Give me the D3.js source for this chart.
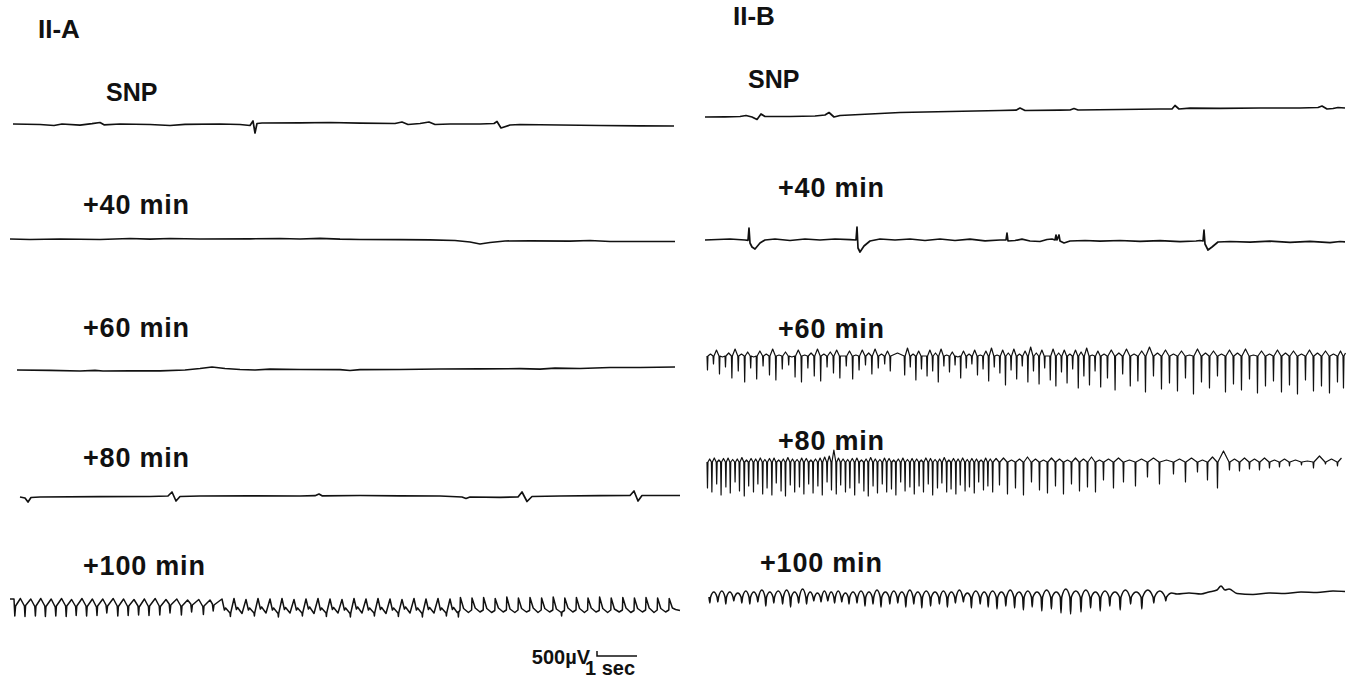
<!DOCTYPE html>
<html>
<head>
<meta charset="utf-8">
<script src="https://cdn.jsdelivr.net/npm/d3@7"></script>
<style>
  body { margin: 0; background: #fff; }
  svg { display: block; }
  text { font-family: "Liberation Sans", Arial, Helvetica, sans-serif; font-weight: bold; fill: #111; }
</style>
</head>
<body>
<script>

// panel and trace names
var panelTitles = ['II-A', 'II-B'];
var traceLabels = ['SNP', '+40 min', '+60 min', '+80 min', '+100 min'];
var scaleLabels = ['500\u00b5V', '1 sec'];
var scaleBar = [0.5, 1]; // mV, sec

// II-A traces, [seconds, mV] (up = positive)
var aSnp = [[0.075,0],[0.75,-0.05],[1.1,-0.15],[1.3,0],[1.75,-0.12],[2.05,0.03],[2.25,0.15],[2.35,-0.08],[2.75,0],[3.5,-0.05],
  [4.0,-0.15],[4.375,-0.03],[5.25,0],[5.75,-0.05],[6.0,-0.15],[6.075,0.3],[6.125,-0.9],[6.175,0.05],[6.3,0.1],[7.25,0.12],
  [8.0,0.15],[8.75,0.08],[9.625,0.05],[9.8,0.2],[9.95,-0.05],[10.25,0.05],[10.475,0.2],[10.625,-0.05],[11.0,0],[11.75,0],
  [12.1,0.05],[12.175,0.25],[12.275,-0.4],[12.5,-0.1],[12.75,-0.05],[13.75,-0.1],[14.75,-0.15],[15.75,-0.18],[16.6,-0.2]];

var a40 = [[0,0.1],[0.5,0.05],[1.25,0.1],[2.25,0.05],[3.0,0.15],[3.5,0.08],[4.0,0.15],[4.75,0.1],[6.0,0.12],[6.75,0.15],
  [7.25,0.1],[7.75,0.17],[8.25,0.08],[8.75,0.05],[9.75,0.03],[10.5,0.02],[11.125,-0.05],[11.5,-0.2],[11.75,-0.4],[12.0,-0.25],
  [12.375,-0.1],[13.0,-0.08],[14.0,-0.12],[14.5,-0.05],[15.0,-0.15],[15.75,-0.15],[16.625,-0.15]];

var a60 = [[0.175,0],[1.0,-0.03],[1.75,-0.1],[2.125,-0.03],[2.325,-0.1],[3.0,-0.08],[3.75,-0.08],[4.375,0],[4.75,0.15],[5.05,0.3],
  [5.375,0.15],[5.75,0.05],[6.125,0],[6.5,0.08],[7.25,0.05],[8.25,0.03],[8.5,-0.05],[8.75,0.03],[9.75,0.05],[10.75,0.1],
  [11.75,0.12],[12.75,0.13],[13.25,0.08],[13.625,0.18],[14.25,0.15],[15.0,0.25],[15.75,0.25],[16.625,0.3]];

var a80 = [[0.25,0],[0.375,-0.1],[0.45,-0.5],[0.525,-0.05],[0.75,0],[2.25,0.03],[3.5,0.05],[3.95,0.1],[4.05,0.5],[4.15,-0.4],
  [4.25,0.05],[4.75,0.1],[6.0,0.12],[7.25,0.1],[7.625,0.13],[7.725,0.3],[7.8,0.12],[8.75,0.15],[9.75,0.12],[10.75,0.1],
  [11.3,0],[11.4,-0.15],[11.5,0],[12.25,-0.03],[12.7,0],[12.8,0.5],[12.925,-0.45],[13.05,0.05],[13.75,0.1],[14.75,0.13],
  [15.5,0.15],[15.6,0.6],[15.7,-0.4],[15.8,0.15],[16.25,0.15],[16.75,0.15]];

var a100 = [[0,0.8],[0.1,0.8],[0.12,-0.9],[0.14,0.1],
  [0.26,0.85],[0.36,0.1],[0.375,-0.95],[0.39,0.15],[0.52,0.8],[0.62,0.05],[0.635,-0.9],[0.65,0.1],
  [0.77,0.85],[0.87,0.1],[0.885,-0.95],[0.9,0.05],[1.03,0.8],[1.13,0],[1.145,-0.9],[1.16,0.1],
  [1.29,0.85],[1.39,0.1],[1.405,-0.95],[1.42,0.1],[1.54,0.75],[1.64,0.05],[1.655,-0.85],[1.67,0.1],
  [1.8,0.85],[1.9,0.1],[1.915,-0.9],[1.93,0.05],[2.06,0.8],[2.16,0],[2.175,-0.85],[2.19,0.1],
  [2.32,0.8],[2.4,0.2],[2.42,-0.6],[2.44,0.1],[2.58,0.85],[2.68,0.1],[2.695,-0.9],[2.71,0.05],
  [2.84,0.8],[2.94,0.05],[2.955,-0.85],[2.97,0.1],[3.1,0.75],[3.2,0.1],[3.215,-0.8],[3.23,0],
  [3.36,0.8],[3.46,0.05],[3.475,-0.85],[3.49,0.1],[3.63,0.85],[3.73,0.1],[3.745,-0.8],[3.76,0.05],
  [3.9,0.75],[3.98,0.3],[4.0,-0.6],[4.02,0.2],[4.17,0.8],[4.27,0.1],[4.285,-0.8],[4.3,0.1],
  [4.44,0.7],[4.52,0.3],[4.54,-0.5],[4.56,0.2],[4.72,0.75],[4.82,0.05],[4.835,-0.75],[4.85,0.1],
  [5.0,0.7],[5.06,0.3],[5.08,-0.4],[5.1,0.2],
  [5.3,0.8],[5.36,-0.3],[5.39,-0.1],[5.5,-0.6],[5.51,-0.95],[5.52,-0.55],
  [5.6,0.85],[5.66,-0.25],[5.69,-0.05],[5.8,-0.65],
  [5.9,0.75],[5.96,-0.3],[5.99,-0.1],[6.1,-0.6],[6.11,-0.9],[6.12,-0.55],
  [6.2,0.85],[6.26,-0.2],[6.29,0],[6.4,-0.6],
  [6.5,0.8],[6.56,-0.3],[6.59,-0.1],[6.7,-0.65],[6.71,-1.0],[6.72,-0.6],
  [6.8,0.85],[6.86,-0.25],[6.89,-0.05],[7.0,-0.6],
  [7.1,0.75],[7.16,-0.3],[7.19,-0.1],[7.3,-0.6],[7.31,-0.9],[7.32,-0.55],
  [7.4,0.8],[7.46,-0.2],[7.49,0],[7.6,-0.65],
  [7.7,0.85],[7.76,-0.3],[7.79,-0.1],[7.9,-0.6],[7.91,-0.95],[7.92,-0.55],
  [8.0,0.8],[8.06,-0.25],[8.09,-0.05],[8.2,-0.6],
  [8.3,0.75],[8.36,-0.3],[8.39,-0.1],[8.5,-0.65],[8.51,-1.0],[8.52,-0.6],
  [8.6,0.85],[8.66,-0.2],[8.69,0],[8.8,-0.6],
  [8.9,0.8],[8.96,-0.3],[8.99,-0.1],[9.1,-0.6],[9.11,-0.9],[9.12,-0.55],
  [9.2,0.85],[9.26,-0.25],[9.29,-0.05],[9.4,-0.65],
  [9.5,0.8],[9.56,-0.3],[9.59,-0.1],[9.7,-0.6],[9.71,-0.95],[9.72,-0.55],
  [9.8,0.75],[9.86,-0.2],[9.89,0],[10.0,-0.6],
  [10.1,0.85],[10.16,-0.3],[10.19,-0.1],[10.3,-0.65],[10.31,-1.0],[10.32,-0.6],
  [10.4,0.8],[10.46,-0.25],[10.49,-0.05],[10.6,-0.6],
  [10.7,0.85],[10.76,-0.3],[10.79,-0.1],[10.9,-0.6],[10.91,-0.9],[10.92,-0.55],
  [11.0,0.8],[11.06,-0.25],[11.09,-0.05],[11.18,-0.55],
  [11.2,-0.5],[11.21,-1.0],[11.22,-0.5],
  [11.25,-0.3],[11.26,0.95],[11.34,-0.15],[11.46,-0.55],[11.54,-0.3],[11.55,0.9],[11.63,-0.1],[11.75,-0.5],
  [11.83,-0.3],[11.84,0.95],[11.92,-0.15],[12.04,-0.55],[12.12,-0.35],[12.13,0.85],[12.21,-0.1],[12.33,-0.5],
  [12.41,-0.3],[12.42,1.0],[12.5,-0.2],[12.62,-0.55],[12.7,-0.3],[12.71,0.9],[12.79,-0.15],[12.91,-0.5],
  [12.99,-0.35],[13.0,0.95],[13.08,-0.1],[13.2,-0.55],[13.28,-0.3],[13.29,0.9],[13.37,-0.15],[13.49,-0.5],
  [13.57,-0.3],[13.58,1.0],[13.66,-0.2],[13.78,-0.55],[13.79,-0.9],[13.8,-0.5],[13.86,-0.35],[13.87,0.9],[13.95,-0.1],[14.07,-0.5],
  [14.15,-0.3],[14.16,0.95],[14.24,-0.15],[14.36,-0.55],[14.44,-0.3],[14.45,0.9],[14.53,-0.1],[14.65,-0.5],
  [14.73,-0.35],[14.74,1.0],[14.82,-0.15],[14.94,-0.55],[15.02,-0.3],[15.03,0.9],[15.11,-0.2],[15.23,-0.5],
  [15.31,-0.3],[15.32,0.95],[15.4,-0.1],[15.52,-0.55],[15.6,-0.35],[15.61,0.9],[15.69,-0.15],[15.81,-0.5],
  [15.89,-0.3],[15.9,0.95],[15.98,-0.1],[16.1,-0.55],[16.18,-0.3],[16.19,0.9],[16.27,-0.15],[16.39,-0.5],
  [16.47,-0.3],[16.48,0.85],[16.56,-0.1],[16.64,-0.25],[16.75,-0.35]];

// II-B traces, [seconds, mV]
var bSnp = [[0,-0.5],[0.5,-0.48],[0.875,-0.45],[1.025,-0.35],[1.175,-0.5],[1.3,-0.75],[1.4,-0.2],[1.5,-0.45],[2.125,-0.45],
  [2.75,-0.4],[3.0,-0.3],[3.1,-0.05],[3.225,-0.5],[3.375,-0.35],[4.125,-0.2],[4.875,-0.05],[6.125,0.05],[7.375,0.15],
  [7.775,0.18],[7.875,0.4],[8.0,0.15],[8.875,0.18],[9.125,0.2],[9.225,0.35],[9.325,0.2],[10.375,0.25],[11.375,0.3],
  [11.675,0.3],[11.75,0.65],[11.85,0.3],[12.125,0.38],[12.875,0.36],[13.875,0.4],[14.875,0.4],[15.325,0.45],[15.425,0.6],
  [15.55,0.3],[15.7,0.35],[15.825,0.45],[16.0,0.4]];

var b40 = [[0,0],[0.625,0.1],[1.0,0],[1.075,-0.03],[1.1,1.2],[1.125,-0.3],[1.175,-0.7],[1.25,-0.9],[1.375,-0.3],[1.5,0],
  [1.75,0.1],[2.125,-0.05],[2.5,0.1],[2.875,0],[3.25,0.1],[3.625,0.03],[3.775,0],[3.8,1.3],[3.825,-0.8],[3.875,-1.2],
  [3.975,-0.6],[4.125,-0.1],[4.375,0.1],[4.75,0],[5.125,0.1],[5.5,-0.05],[5.875,0.1],[6.25,-0.05],[6.625,0.08],[7.0,-0.08],
  [7.375,0],[7.525,0],[7.55,0.7],[7.575,-0.1],[7.75,-0.05],[7.925,0.08],[8.125,-0.1],[8.375,-0.15],[8.55,0.05],[8.675,0.1],
  [8.75,0],[8.775,0.5],[8.8,0],[8.85,0.5],[8.875,-0.1],[8.975,-0.3],[9.125,-0.1],[9.5,-0.05],[9.875,-0.12],[10.375,-0.05],
  [10.875,-0.14],[11.375,-0.06],[11.875,-0.16],[12.275,-0.1],[12.375,-0.05],[12.45,-0.1],[12.475,1.0],[12.5,-0.4],
  [12.575,-1.0],[12.675,-0.7],[12.825,-0.2],[13.125,-0.15],[13.625,-0.22],[14.125,-0.12],[14.625,-0.24],[15.125,-0.14],
  [15.625,-0.26],[15.875,-0.15],[16.0,-0.18]];

// dense II-B traces as spike tables: [spike time s, arch after spike mV, spike tip mV]
var b60 = [[0.05,0.2,-1.4],[0.2,0.6,-0.8],[0.35,-0.1,-1.8],[0.5,0.3,-1.1],[0.66,0.7,-2.2],[0.82,0.2,-1.5],[0.98,0.4,-2.6],
  [1.13,-0.1,-1.2],[1.28,0.5,-2.3],[1.44,0.2,-1.0],[1.6,0.7,-1.9],[1.76,0.1,-2.4],[1.92,0.4,-1.3],[2.08,-0.1,-0.9],
  [2.24,0.6,-2.1],[2.4,0.1,-2.6],[2.56,0.3,-1.2],[2.72,0.7,-2.0],[2.88,0.2,-2.5],[3.04,0.4,-1.1],[3.2,0.6,-1.7],
  [3.36,0.0,-2.2],[3.52,0.5,-1.0],[3.68,0.1,-2.3],[3.84,0.6,-1.4],[4.0,0.3,-0.9],[4.16,0.7,-1.8],[4.32,0.2,-1.2],
  [4.48,0.5,-0.8],[4.62,0.3,-1.5],[4.98,0.8,-1.9],[5.12,0.2,-1.1],[5.26,0.5,-2.4],[5.4,0.0,-1.3],[5.54,0.6,-2.0],
  [5.68,0.3,-1.5],[5.82,0.7,-2.6],[5.96,0.1,-1.0],[6.1,0.4,-1.6],[6.24,-0.1,-0.9],[6.38,0.5,-2.2],[6.52,0.2,-1.2],
  [6.66,0.6,-0.8],[6.8,0.1,-1.9],[6.94,0.5,-1.3],[7.08,0.8,-2.5],[7.22,0.1,-1.1],[7.36,0.6,-1.7],[7.5,0.3,-2.9],
  [7.64,0.7,-1.4],[7.78,0.2,-2.3],[7.92,0.5,-1.0],[8.06,0.9,-2.6],[8.2,0.3,-1.5],[8.34,0.6,-2.8],[8.48,0.0,-1.2],
  [8.62,0.7,-2.4],[8.76,0.3,-3.0],[8.9,0.6,-1.6],[9.04,0.2,-2.7],[9.18,0.6,-1.3],[9.32,0.4,-3.2],[9.46,0.8,-2.0],
  [9.6,0.1,-2.9],[9.74,0.5,-1.5],[9.88,0.2,-3.1],[10.05,0.6,-2.2],[10.24,0.3,-3.4],[10.43,0.7,-1.8],[10.62,0.2,-3.0],
  [10.81,0.5,-2.5],[11.0,0.9,-3.6],[11.2,0.3,-2.0],[11.4,0.6,-3.3],[11.6,0.2,-2.7],[11.8,0.5,-3.5],[12.0,0.1,-2.2],
  [12.2,0.7,-3.8],[12.4,0.3,-2.6],[12.6,0.5,-3.2],[12.8,0.2,-2.0],[13.0,0.6,-3.6],[13.2,0.3,-2.8],[13.4,0.7,-3.4],
  [13.6,0.1,-2.3],[13.8,0.5,-3.7],[14.0,0.2,-3.0],[14.2,0.6,-2.5],[14.4,0.3,-3.6],[14.6,0.5,-2.9],[14.8,0.2,-3.8],
  [15.0,0.6,-2.4],[15.2,0.3,-3.5],[15.4,0.5,-3.0],[15.6,0.2,-3.7],[15.8,0.5,-2.6],[15.95,0.3,-3.2]];

var b80 = [[0.05,0.3,-2.6],[0.16,0.4,-3.0],[0.28,0.2,-2.2],[0.39,0.35,-3.3],[0.51,0.4,-2.5],[0.62,0.25,-3.1],[0.74,0.3,-2.0],
  [0.85,0.45,-2.9],[0.97,0.2,-3.4],[1.08,0.35,-2.4],[1.2,0.3,-3.0],[1.31,0.4,-2.2],[1.43,0.25,-3.2],[1.54,0.35,-2.6],
  [1.66,0.4,-3.3],[1.77,0.2,-2.1],[1.89,0.3,-2.9],[2.0,0.45,-3.4],[2.12,0.3,-2.3],[2.23,0.25,-3.0],[2.35,0.4,-2.5],
  [2.46,0.35,-3.2],[2.58,0.2,-2.2],[2.69,0.3,-3.1],[2.81,0.4,-2.4],[2.92,0.5,-3.3],[3.04,0.6,-2.0],[3.15,1.2,-2.8],
  [3.27,0.4,-3.2],[3.38,0.3,-2.3],[3.5,0.25,-3.0],[3.61,0.35,-2.6],[3.73,0.4,-3.3],[3.84,0.2,-2.1],[3.96,0.3,-2.9],
  [4.07,0.45,-3.4],[4.19,0.3,-2.4],[4.3,0.25,-3.1],[4.42,0.4,-2.2],[4.53,0.35,-3.0],[4.65,0.2,-2.7],[4.76,0.3,-3.3],
  [4.88,0.4,-2.0],[4.99,0.25,-2.9],[5.11,0.35,-2.5],[5.22,0.3,-3.2],[5.34,0.2,-2.4],[5.45,0.4,-3.0],[5.57,0.35,-2.2],
  [5.68,0.25,-3.3],[5.8,0.3,-2.6],[5.91,0.45,-2.1],[6.03,0.2,-3.0],[6.14,0.35,-2.7],[6.26,0.3,-3.2],[6.37,0.4,-2.3],
  [6.49,0.25,-2.9],[6.6,0.35,-2.5],[6.72,0.3,-3.1],[6.83,0.2,-2.0],[6.95,0.4,-2.8],[7.06,0.3,-2.4],[7.18,0.35,-3.0],
  [7.35,0.4,-2.3],[7.55,0.2,-3.2],[7.75,0.3,-2.6],[7.95,0.5,-3.3],[8.15,0.3,-2.0],[8.35,0.2,-2.8],[8.55,0.4,-3.1],
  [8.75,0.3,-2.4],[8.95,0.2,-3.2],[9.15,0.4,-2.2],[9.35,0.3,-2.9],[9.55,0.5,-2.5],[9.75,0.2,-3.0],[9.95,0.3,-1.8],
  [10.2,0.4,-2.6],[10.45,0.2,-2.0],[10.75,0.3,-2.4],[11.05,0.4,-1.5],[11.35,0.2,-2.2],[11.7,0.3,-1.2],[12.0,0.4,-2.0],
  [12.3,0.2,-1.0],[12.55,0.5,-1.8],[12.8,1.1,-2.6],[13.1,0.3,-0.8],[13.35,0.4,-0.9],[13.6,0.3,-0.7],[13.85,0.4,-0.8],
  [14.1,0.2,-0.6],[14.35,0.3,-0.5],[14.6,0.2,-0.4],[14.9,0.1,-0.3],[15.2,0.6,-0.6],[15.5,0.3,-0.2],[15.8,0.4,-0.4]];

var b100 = [[0.1,0.5,-0.6],[0.3,0.6,-0.5],[0.5,0.5,-0.7],[0.7,0.4,-0.4],[0.9,0.6,-0.6],[1.1,0.5,-0.7],[1.3,0.7,-0.5],
  [1.5,0.5,-0.9],[1.7,0.6,-0.6],[1.92,0.7,-0.7],[2.12,0.5,-1.0],[2.32,0.8,-0.6],[2.52,0.5,-0.7],[2.7,0.4,-0.4],
  [2.88,0.6,-0.5],[3.05,0.5,-0.4],[3.22,0.6,-0.6],[3.4,0.4,-0.5],[3.58,0.5,-0.7],[3.78,0.6,-0.6],[3.98,0.5,-0.9],
  [4.18,0.7,-0.7],[4.38,0.5,-1.0],[4.6,0.6,-0.7],[4.8,0.5,-0.6],[5.0,0.7,-1.0],[5.2,0.5,-0.7],[5.4,0.6,-1.1],
  [5.62,0.5,-0.9],[5.84,0.6,-0.7],[6.04,0.5,-1.0],[6.24,0.7,-0.6],[6.44,0.4,-0.5],[6.64,0.6,-1.1],[6.86,0.5,-0.7],
  [7.06,0.6,-1.0],[7.28,0.5,-1.2],[7.5,0.7,-0.9],[7.72,0.5,-1.1],[7.94,0.6,-1.3],[8.16,0.5,-1.0],[8.4,0.7,-1.4],
  [8.64,0.5,-1.2],[8.88,0.8,-1.6],[9.12,0.6,-1.7],[9.38,0.7,-1.5],[9.62,0.5,-1.1],[9.86,0.6,-1.4],[10.1,0.5,-0.9],
  [10.36,0.7,-1.3],[10.62,0.5,-0.7],[10.9,0.7,-1.2],[11.2,0.6,-0.6],[11.5,0.4,-0.4]];
var b100Tail = [[11.8,0.3],[12.1,0.4],[12.4,0.3],[12.6,0.5],[12.8,0.7],[12.9,1.1],[13.0,0.7],[13.1,0.8],[13.3,0.35],
  [13.7,0.25],[14.1,0.4],[14.5,0.35],[14.9,0.5],[15.3,0.45],[15.7,0.6],[16.0,0.55]];

// ---- layout ----
var width = 1349, height = 678;
var svg = d3.select('body').append('svg').attr('width', width).attr('height', height);

var xA = d3.scaleLinear().domain([0, 16.75]).range([10, 680]);
var xB = d3.scaleLinear().domain([0, 16]).range([705, 1345]);
function yAt(base) { return d3.scaleLinear().domain([-1, 1]).range([base + 10, base - 10]); }

// turn a spike table into a pen path: drop to the tip, come back, arch to the next spike
function spikePoints(rows, endT, w) {
  var pts = [];
  rows.forEach(function(r, i) {
    var next = i < rows.length - 1 ? rows[i + 1][0] : endT;
    pts.push([r[0], 0], [r[0] + w, r[2]], [r[0] + 2 * w, 0], [(r[0] + 2 * w + next) / 2, r[1]]);
  });
  return pts;
}

var left = {
  x: xA,
  bases: [124, 240, 370, 497, 607],
  labels: [[106, 101], [83, 214], [83, 337], [83, 467], [83, 575]],
  title: [38, 38],
  series: [aSnp, a40, a60, a80, a100],
  widths: [1.7, 1.7, 1.7, 1.7, 1.5],
  curves: [d3.curveLinear, d3.curveLinear, d3.curveLinear, d3.curveLinear, d3.curveLinear]
};
var right = {
  x: xB,
  bases: [112, 240, 356, 462, 597],
  labels: [[748, 88], [778, 197], [778, 338], [778, 450], [760, 572]],
  title: [733, 25],
  series: [bSnp, b40, spikePoints(b60, 16.05, 0.012), spikePoints(b80, 16.0, 0.012),
           spikePoints(b100, 11.8, 0.02).concat(b100Tail)],
  widths: [1.7, 1.7, 1.2, 1.2, 1.5],
  curves: [d3.curveLinear, d3.curveLinear, d3.curveLinear, d3.curveLinear, d3.curveMonotoneX]
};

[left, right].forEach(function(p, pi) {
  svg.append('text').attr('x', p.title[0]).attr('y', p.title[1])
    .style('font-size', '26px').text(panelTitles[pi]);

  p.series.forEach(function(s, i) {
    var y = yAt(p.bases[i]);
    var line = d3.line().curve(p.curves[i])
      .x(function(d) { return p.x(d[0]); }).y(function(d) { return y(d[1]); });
    svg.append('path').attr('d', line(s))
      .attr('fill', 'none').attr('stroke', '#111')
      .attr('stroke-width', p.widths[i]).attr('stroke-linejoin', 'round');

    svg.append('text').attr('x', p.labels[i][0]).attr('y', p.labels[i][1])
      .style('font-size', i === 0 ? '25px' : '27px')
      .style('letter-spacing', i === 0 ? '0px' : '0.8px')
      .text(traceLabels[i]);
  });
});

// calibration mark under II-A
var sbT = 14.675, yBar = yAt(656);
svg.append('path')
  .attr('d', 'M' + xA(sbT) + ',' + yBar(scaleBar[0]) + 'V' + yBar(0) + 'H' + xA(sbT + scaleBar[1]))
  .attr('fill', 'none').attr('stroke', '#111').attr('stroke-width', 1.5);
svg.append('text').attr('x', xA(sbT) - 7).attr('y', 664).attr('text-anchor', 'end')
  .style('font-size', '20px').text(scaleLabels[0]);
svg.append('text').attr('x', xA(sbT) - 12).attr('y', 675)
  .style('font-size', '20px').text(scaleLabels[1]);

</script>
</body>
</html>
